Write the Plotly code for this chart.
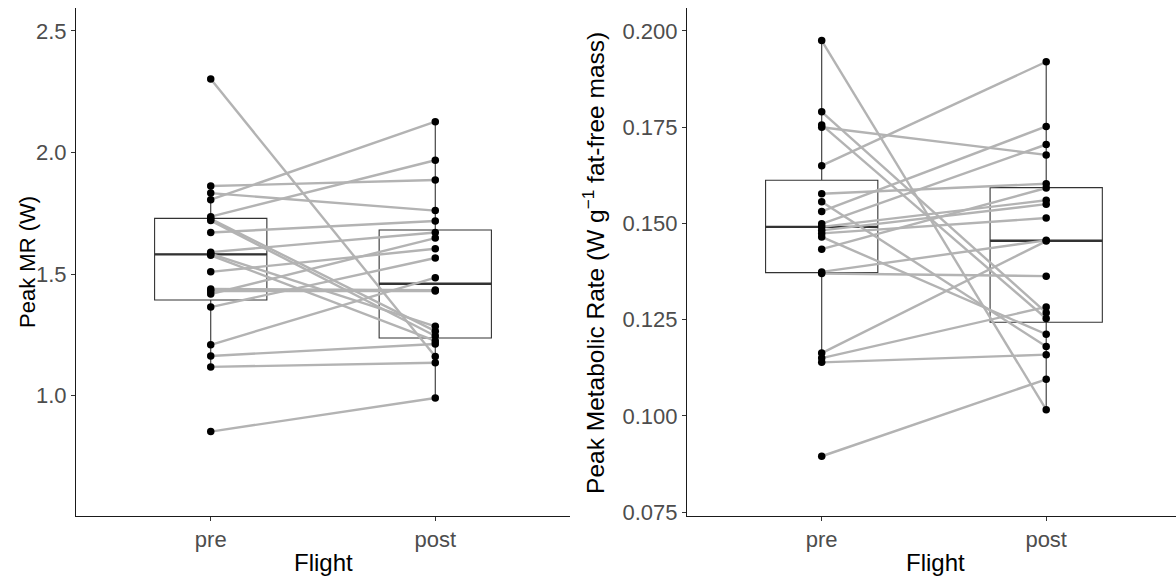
import plotly.graph_objects as go

# ---------------- data ----------------
categories = ["pre", "post"]

# Left panel: Peak MR (W), paired by index
mr_pre = [2.302, 1.862, 1.833, 1.806, 1.736, 1.727, 1.720, 1.671, 1.590, 1.583,
          1.577, 1.509, 1.439, 1.430, 1.418, 1.364, 1.209, 1.163, 1.118, 0.852]
mr_post = [1.161, 1.887, 1.761, 2.127, 1.968, 1.265, 1.245, 1.718, 1.671, 1.285,
           1.225, 1.604, 1.434, 1.430, 1.648, 1.566, 1.485, 1.212, 1.135, 0.990]

# box statistics (pre, post)
mr_q1 = [1.393, 1.237]
mr_median = [1.581, 1.460]
mr_q3 = [1.729, 1.681]
mr_lowerfence = [1.118, 0.990]
mr_upperfence = [1.862, 2.127]

# Right panel: Peak Metabolic Rate (W g-1 fat-free mass), paired by index
pmr_pre = [0.1975, 0.1790, 0.1756, 0.1750, 0.1650, 0.1577, 0.1556, 0.1531, 0.1499, 0.1491,
           0.1482, 0.1474, 0.1465, 0.1433, 0.1374, 0.1370, 0.1163, 0.1150, 0.1139, 0.0895]
pmr_post = [0.1016, 0.1268, 0.1253, 0.1678, 0.1920, 0.1603, 0.1180, 0.1752, 0.1705, 0.1560,
            0.1550, 0.1514, 0.1212, 0.1592, 0.1456, 0.1363, 0.1454, 0.1283, 0.1159, 0.1095]

pmr_q1 = [0.1372, 0.1243]
pmr_median = [0.1491, 0.1455]
pmr_q3 = [0.1612, 0.1593]
pmr_lowerfence = [0.1139, 0.1016]
pmr_upperfence = [0.1975, 0.1920]

mr_ticks = [1.0, 1.5, 2.0, 2.5]
mr_tick_labels = ["1.0", "1.5", "2.0", "2.5"]
pmr_ticks = [0.075, 0.100, 0.125, 0.150, 0.175, 0.200]
pmr_tick_labels = ["0.075", "0.100", "0.125", "0.150", "0.175", "0.200"]

x_title = "Flight"
mr_title = "Peak MR (W)"
pmr_title = "Peak Metabolic Rate (W g<sup>\u22121</sup> fat-free mass)"

# ---------------- styling ----------------
W, H = 1176, 583
FONT = "Liberation Sans, Arial, sans-serif"
TICK_SIZE = 22
BOX_HALF = 0.25
POS = [1, 2]


def px_x(p):
    return p / W


def px_y(p):
    return 1 - p / H


fig = go.Figure()


def add_panel(pre, post, q1, med, q3, lf, uf, xref, yref):
    # box
    fig.add_trace(go.Box(
        x=POS, q1=q1, median=med, q3=q3, lowerfence=lf, upperfence=uf,
        width=2 * BOX_HALF, whiskerwidth=0, boxpoints=False,
        line=dict(color="#333333", width=1.1),
        fillcolor="rgba(255,255,255,0)",
        xaxis=xref, yaxis=yref, showlegend=False, hoverinfo="skip",
    ))
    # thicker median
    mx, my = [], []
    for p, m in zip(POS, med):
        mx += [p - BOX_HALF, p + BOX_HALF, None]
        my += [m, m, None]
    fig.add_trace(go.Scatter(
        x=mx, y=my, mode="lines", line=dict(color="#333333", width=2.3),
        xaxis=xref, yaxis=yref, showlegend=False, hoverinfo="skip",
    ))
    # paired lines
    lx, ly = [], []
    for a, b in zip(pre, post):
        lx += [POS[0], POS[1], None]
        ly += [a, b, None]
    fig.add_trace(go.Scatter(
        x=lx, y=ly, mode="lines", line=dict(color="#B3B3B3", width=2.4),
        xaxis=xref, yaxis=yref, showlegend=False, hoverinfo="skip",
    ))
    # points
    fig.add_trace(go.Scatter(
        x=[POS[0]] * len(pre) + [POS[1]] * len(post), y=list(pre) + list(post),
        mode="markers", marker=dict(color="black", size=7.5),
        xaxis=xref, yaxis=yref, showlegend=False, hoverinfo="skip",
    ))


add_panel(mr_pre, mr_post, mr_q1, mr_median, mr_q3, mr_lowerfence, mr_upperfence, "x", "y")
add_panel(pmr_pre, pmr_post, pmr_q1, pmr_median, pmr_q3, pmr_lowerfence, pmr_upperfence, "x2", "y2")

ydom = [px_y(524), px_y(8)]
common_axis = dict(
    showline=True, linecolor="#1a1a1a", linewidth=1.1,
    ticks="outside", ticklen=4, tickwidth=1.1, tickcolor="#333333",
    tickfont=dict(family=FONT, size=TICK_SIZE, color="#4D4D4D"),
    showgrid=False, zeroline=False,
)

spacing = 224.5
fig.update_layout(
    width=W, height=H,
    margin=dict(l=0, r=0, t=0, b=0),
    paper_bgcolor="white", plot_bgcolor="white",
    font=dict(family=FONT),
    xaxis=dict(domain=[px_x(76), px_x(570)], range=[0.4, 2.6], anchor="y",
               tickvals=POS, ticktext=categories, **common_axis),
    yaxis=dict(domain=ydom, range=[0.505, 2.595], anchor="x",
               tickvals=mr_ticks, ticktext=mr_tick_labels, **common_axis),
    xaxis2=dict(domain=[px_x(687), 1.0], range=[0.4, 0.4 + (W - 687) / spacing], anchor="y2",
                tickvals=POS, ticktext=categories, **common_axis),
    yaxis2=dict(domain=ydom, range=[0.074, 0.206], anchor="x2",
                tickvals=pmr_ticks, ticktext=pmr_tick_labels, **common_axis),
)

ann = [
    dict(text=mr_title, x=px_x(28), y=px_y(266), textangle=-90, size=22),
    dict(text=pmr_title, x=px_x(594), y=px_y(267), textangle=-90, size=24.5),
    dict(text=x_title, x=px_x(323), y=px_y(571), size=24),
    dict(text=x_title, x=px_x(935), y=px_y(571), size=24),
]
for a in ann:
    size = a.pop("size")
    fig.add_annotation(xref="paper", yref="paper", xanchor="center", yanchor="middle",
                       showarrow=False, font=dict(family=FONT, size=size, color="black"), **a)

fig.write_html("out.html")
